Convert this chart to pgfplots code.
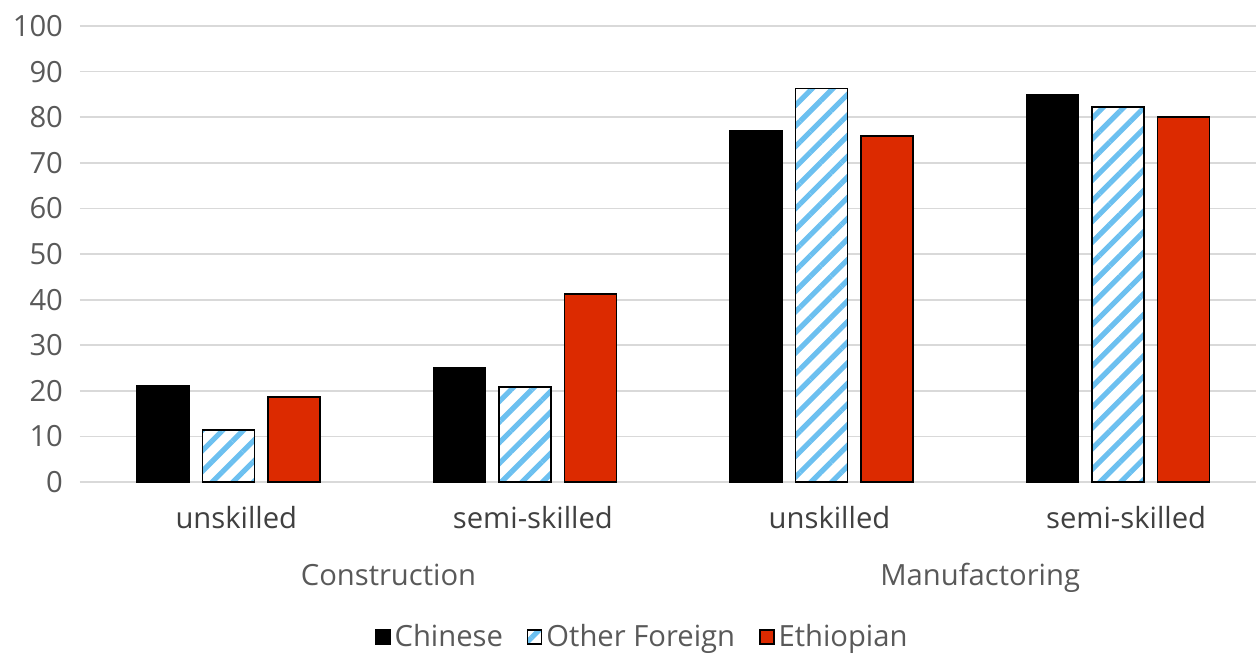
\documentclass[border=0pt]{standalone}
\usepackage{pgfplots}
\pgfplotsset{compat=1.18}
\usetikzlibrary{patterns.meta}
\usepackage{fontspec}
\setmainfont{Open Sans}
\definecolor{tickgray}{HTML}{595959}
\definecolor{catgray}{HTML}{404040}
\definecolor{gridgray}{HTML}{D9D9D9}
\definecolor{ethred}{HTML}{DC2A00}
\definecolor{stripeblue}{HTML}{6CC0F0}
\begin{document}
\begin{tikzpicture}
\begin{axis}[
  scale only axis, width=588pt, height=228pt,
  xmin=-0.5, xmax=3.465, ymin=0, ymax=100,
  ybar=6.75pt, bar width=26pt,
  xtick={0,1,2,3},
  xticklabels={unskilled, semi-skilled, unskilled, semi-skilled},
  ytick={0,10,...,100},
  ymajorgrids, grid style={draw=gridgray, line width=0.9pt},
  axis line style={draw=none},
  major tick length=0pt,
  tick label style={font=\fontsize{14.6}{16}\selectfont, text=tickgray},
  xticklabel style={text=catgray, anchor=base, yshift=-23pt, xshift=4pt},
  yticklabel style={anchor=east, xshift=-5pt},
  /pgf/number format/assume math mode=true,
  legend columns=-1,
  legend style={draw=none, at={(0.479,-0.34)}, anchor=center,
    font=\fontsize{14.6}{16}\selectfont, text=tickgray,
    /tikz/every even column/.append style={column sep=10pt},
    inner sep=0pt},
  legend image code/.code={\draw[#1] (0pt,-3.5pt) rectangle (7pt,3.5pt);},
  clip=false,
]
\addplot[fill=black, draw=black, line width=0.75pt] coordinates {(0,21.0) (1,25.0) (2,77.0) (3,85.0)};
\addplot[fill=white, draw=black, line width=0.75pt,
  postaction={pattern={Lines[angle=45,distance=7.3pt,line width=2.6pt]}, pattern color=stripeblue}]
  coordinates {(0,11.4) (1,20.8) (2,86.3) (3,82.2)};
\addplot[fill=ethred, draw=black, line width=0.75pt] coordinates {(0,18.6) (1,41.2) (2,75.9) (3,80.0)};
\legend{Chinese, Other Foreign, Ethiopian}
\node[anchor=base, font=\fontsize{14.6}{16}\selectfont, text=tickgray] at ([yshift=-51.5pt]axis cs:0.54,0) {Construction};
\node[anchor=base, font=\fontsize{14.6}{16}\selectfont, text=tickgray] at ([yshift=-51.5pt]axis cs:2.535,0) {Manufactoring};
\coordinate (bbsw) at (rel axis cs:0,0);
\coordinate (bbne) at (rel axis cs:1,1);
\end{axis}
\pgfresetboundingbox
\path[use as bounding box] ([shift={(-40pt,-85.5pt)}]bbsw) rectangle ([shift={(0pt,13pt)}]bbne);
\end{tikzpicture}
\end{document}
